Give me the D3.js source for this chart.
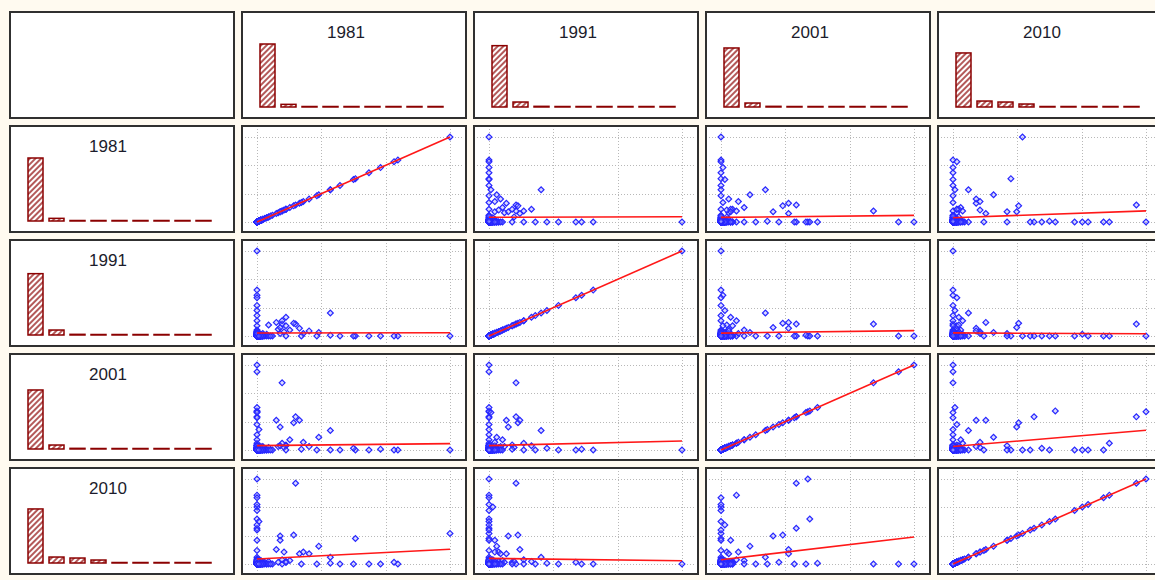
<!DOCTYPE html>
<html>
<head>
<meta charset="utf-8">
<script src="https://cdn.jsdelivr.net/npm/d3@7"></script>
<style>
    html, body { margin: 0; padding: 0; background: #fffaf0; }
    svg { display: block; }
</style>
</head>
<body>
<div id="vis"></div>
<script>
// variable names (rows and columns of the matrix)
var years = ['1981', '1991', '2001', '2010'];

// one value per record, same record order in every array
// groups: outliers | mixed | high 1981 | high 1991 | high 2001 | high 2010 | near zero
var v1981 = [100, 0, 0, 0, 20, 51, 13, 0,
    17, 22, 11, 12, 15, 19, 6, 10, 13, 15, 38, 0, 0, 0, 12, 14, 24, 27, 32,
    73, 71, 64, 58, 50, 43, 38, 31, 23, 15, 8,
    0, 0, 0, 0, 0, 0, 0, 0, 0,
    0, 0, 0, 0, 1, 0, 0, 0,
    0, 0, 0, 0, 1, 0, 0, 0, 0, 0,
    0, 1, 2, 0, 3, 1, 0, 2, 4, 1, 0, 3, 2, 0, 1, 5, 0, 2, 1, 3,
    0, 0, 1, 0, 2, 0, 0, 3, 0, 1,  0, 0, 0, 1, 0, 0, 2, 0, 0, 0,
    1, 0, 0, 0, 4, 0, 0, 1, 0, 0,  0, 2, 0, 0, 0, 0, 1, 0, 0, 5,
    0, 0, 0, 1, 0, 0, 0, 0, 2, 0,  3, 0, 0, 0, 0, 1, 0, 0, 0, 0,
    0, 0, 6, 0, 0, 0, 0, 2, 0, 0,  0, 1, 0, 0, 0, 0, 0, 0, 1, 0,
    0, 0, 0, 0, 3, 0, 0, 0, 0, 0,  2, 0, 0, 0, 0, 0, 7, 0, 0, 1];
var v1991 = [0, 100, 0, 0, 14, 0, 14, 0,
    7, 9, 8, 10, 12, 15, 13, 16, 18, 22, 27, 0, 0, 0, 3, 5, 3, 6, 4,
    0, 0, 0, 0, 0, 0, 1, 0, 0, 0, 0,
    54, 48, 45, 36, 30, 24, 18, 12, 7,
    0, 1, 0, 0, 0, 0, 0, 0,
    0, 2, 0, 0, 0, 0, 0, 0, 0, 0,
    1, 0, 2, 3, 0, 1, 4, 0, 1, 2, 0, 3, 1, 5, 0, 2, 1, 0, 3, 1,
    1, 0, 0, 0, 0, 2, 0, 0, 1, 0,  0, 3, 0, 0, 0, 0, 0, 1, 0, 0,
    0, 0, 2, 0, 0, 0, 0, 0, 0, 4,  0, 0, 1, 0, 0, 0, 0, 0, 5, 0,
    0, 1, 0, 0, 0, 2, 0, 0, 0, 0,  0, 0, 0, 3, 0, 0, 0, 1, 0, 0,
    2, 0, 0, 0, 0, 0, 6, 0, 0, 0,  0, 0, 0, 1, 0, 0, 0, 2, 0, 0,
    0, 4, 0, 0, 0, 0, 1, 0, 0, 0,  0, 0, 0, 0, 1, 0, 0, 0, 3, 0];
var v2001 = [0, 0, 100, 45, 39, 0, 79, 92,
    12, 35, 4, 27, 6, 32, 3, 35, 8, 5, 23, 39, 46, 8, 5, 3, 9, 4, 15,
    0, 0, 1, 0, 2, 0, 0, 0, 1, 0, 0,
    0, 1, 0, 0, 2, 0, 0, 1, 0,
    50, 44, 38, 30, 24, 18, 12, 6,
    0, 0, 0, 0, 0, 2, 0, 0, 0, 0,
    2, 1, 0, 1, 3, 0, 2, 4, 0, 1, 5, 0, 2, 1, 3, 0, 1, 2, 0, 4,
    0, 1, 0, 0, 0, 0, 2, 0, 0, 0,  3, 0, 0, 0, 1, 0, 0, 0, 0, 2,
    0, 0, 0, 5, 0, 1, 0, 0, 0, 0,  0, 0, 0, 2, 0, 0, 0, 4, 0, 0,
    1, 0, 0, 0, 0, 0, 3, 0, 0, 0,  0, 0, 2, 0, 0, 0, 0, 0, 6, 0,
    0, 1, 0, 0, 0, 0, 0, 0, 0, 3,  0, 0, 0, 0, 2, 0, 1, 0, 0, 0,
    0, 0, 1, 0, 0, 0, 0, 5, 0, 0,  0, 2, 0, 0, 0, 0, 0, 0, 0, 0];
var v2010 = [36, 0, 0, 100, 95, 30, 0, 0,
    4, 12, 2, 33, 2, 34, 3, 17, 5, 3, 8, 42, 53, 81, 28, 14, 14, 12, 21,
    0, 2, 0, 0, 0, 0, 1, 0, 0, 2, 0,
    0, 0, 2, 0, 1, 0, 0, 0, 0,
    1, 0, 0, 2, 0, 0, 0, 0,
    78, 67, 63, 70, 50, 46, 40, 28, 16, 8,
    0, 3, 1, 2, 0, 4, 1, 0, 2, 5, 1, 2, 0, 3, 1, 0, 2, 4, 3, 1,
    0, 0, 0, 1, 0, 0, 0, 0, 2, 0,  0, 0, 1, 0, 0, 3, 0, 0, 0, 0,
    0, 2, 0, 0, 0, 0, 0, 3, 0, 0,  1, 0, 0, 0, 6, 0, 0, 0, 0, 0,
    0, 0, 2, 0, 0, 0, 0, 0, 0, 4,  0, 0, 0, 0, 1, 0, 2, 0, 0, 0,
    0, 0, 0, 0, 0, 0, 0, 0, 3, 0,  5, 0, 0, 0, 0, 0, 0, 0, 0, 2,
    0, 0, 0, 1, 0, 0, 0, 0, 0, 0,  0, 0, 4, 0, 0, 1, 0, 0, 0, 0];
var values = [v1981, v1991, v2001, v2010];

// histogram counts, 9 bins per year
var hist1981 = [190, 8, 1, 0, 0, 0, 0, 0, 1];
var hist1991 = [185, 15, 2, 0, 0, 0, 0, 0, 1];
var hist2001 = [178, 12, 2, 1, 0, 1, 0, 0, 1];
var hist2010 = [163, 18, 15, 9, 1, 0, 0, 0, 1];
var hists = [hist1981, hist1991, hist2001, hist2010];

var width = 1155, height = 580;
var barColor = '#8b0000';

var svg = d3.select('#vis')
    .append('svg')
        .attr('width', width)
        .attr('height', height);

svg.append('rect')
    .attr('width', width)
    .attr('height', height)
    .attr('fill', '#fffaf0');

// hatch for the histogram bars
svg.append('defs')
    .append('pattern')
        .attr('id', 'hatch')
        .attr('patternUnits', 'userSpaceOnUse')
        .attr('width', 4)
        .attr('height', 4)
        .attr('patternTransform', 'rotate(45)')
    .call(function(p) {
        p.append('rect').attr('width', 4).attr('height', 4).attr('fill', 'white');
        p.append('line')
            .attr('x1', 1).attr('y1', 0).attr('x2', 1).attr('y2', 4)
            .attr('stroke', barColor)
            .attr('stroke-width', 1.3);
    });

// matrix layout
var colScale = d3.scaleBand()
    .domain(d3.range(5))
    .range([10, 1162])
    .paddingInner(8 / 232);
var rowScale = d3.scaleBand()
    .domain(d3.range(5))
    .range([12, 574])
    .paddingInner(8 / 114);
var pw = colScale.bandwidth();
var ph = rowScale.bandwidth();

// scales inside a histogram cell
var barX = d3.scaleBand()
    .domain(d3.range(9))
    .range([18, 201])
    .paddingInner(6 / 21);
var barY = d3.scaleLinear()
    .domain([0, 190])
    .range([95, 32]);

function drawPanel(g)
{
    g.append('rect')
        .attr('x', 0)
        .attr('y', 0)
        .attr('width', pw)
        .attr('height', ph)
        .attr('fill', 'white')
        .attr('stroke', '#303030')
        .attr('stroke-width', 2);
}

function drawHist(g, k, titleX)
{
    g.append('text')
        .attr('x', titleX)
        .attr('y', 26)
        .attr('text-anchor', 'middle')
        .attr('font-family', 'Liberation Sans, Arial, sans-serif')
        .attr('font-size', 17)
        .attr('fill', '#1c1c2c')
        .text(years[k]);

    g.selectAll('.bar')
        .data(hists[k])
        .enter()
        .append('rect')
            .attr('class', 'bar')
            .attr('x', function(d, i) { return barX(i); })
            .attr('y', function(d) { return Math.min(barY(d), barY(0) - 0.5); })
            .attr('width', barX.bandwidth())
            .attr('height', function(d) { return Math.max(barY(0) - barY(d), 0.5); })
            .attr('fill', 'url(#hatch)')
            .attr('stroke', barColor)
            .attr('stroke-width', 1.5);
}

function drawScatter(g, xi, yi)
{
    var xs = values[xi];
    var ys = values[yi];
    var x = d3.scaleLinear().domain([0, d3.max(xs)]).range([15, 208]);
    var y = d3.scaleLinear().domain([0, d3.max(ys)]).range([96, 11]);

    // dotted grid
    var grid = g.append('g')
        .attr('stroke', '#b8b8b8')
        .attr('stroke-width', 1)
        .attr('stroke-dasharray', '1,2');
    grid.selectAll('.gx')
        .data(d3.range(4).map(function(i) { return d3.max(xs) * i / 3; }))
        .enter()
        .append('line')
            .attr('x1', function(d) { return Math.round(x(d)) + 0.5; })
            .attr('x2', function(d) { return Math.round(x(d)) + 0.5; })
            .attr('y1', 3)
            .attr('y2', ph - 2);
    grid.selectAll('.gy')
        .data(d3.range(4).map(function(i) { return d3.max(ys) * i / 3; }))
        .enter()
        .append('line')
            .attr('y1', function(d) { return Math.round(y(d)) + 0.5; })
            .attr('y2', function(d) { return Math.round(y(d)) + 0.5; })
            .attr('x1', 3)
            .attr('x2', pw - 2);

    // points
    var pts = xs.map(function(d, i) { return {x: d, y: ys[i]}; });
    g.selectAll('.dot')
        .data(pts)
        .enter()
        .append('path')
            .attr('class', 'dot')
            .attr('d', d3.symbol().type(d3.symbolSquare).size(17))
            .attr('transform', function(d) {
                return 'translate(' + x(d.x) + ',' + y(d.y) + ') rotate(45)';
            })
            .attr('fill', 'rgba(150,150,255,0.35)')
            .attr('stroke', '#2828ff')
            .attr('stroke-width', 1.2);

    // least squares line
    var mx = d3.mean(xs), my = d3.mean(ys);
    var sxy = d3.sum(xs, function(d, i) { return (d - mx) * (ys[i] - my); });
    var sxx = d3.sum(xs, function(d) { return (d - mx) * (d - mx); });
    var slope = sxy / sxx;
    var icpt = my - slope * mx;
    var ends = [0, d3.max(xs)];
    g.append('path')
        .datum(ends)
        .attr('d', d3.line()
            .x(function(d) { return x(d); })
            .y(function(d) { return y(icpt + slope * d); }))
        .attr('stroke', '#ff1818')
        .attr('stroke-width', 1.6)
        .attr('fill', 'none');
}

for (var r = 0; r < 5; ++r)
{
    for (var c = 0; c < 5; ++c)
    {
        var g = svg.append('g')
            .attr('transform', 'translate(' + colScale(c) + ',' + rowScale(r) + ')');
        drawPanel(g);
        if (r == 0 && c == 0) continue;
        if (r == 0) drawHist(g, c - 1, 104);
        else if (c == 0) drawHist(g, r - 1, 98);
        else drawScatter(g, c - 1, r - 1);
    }
}
</script>
</body>
</html>
